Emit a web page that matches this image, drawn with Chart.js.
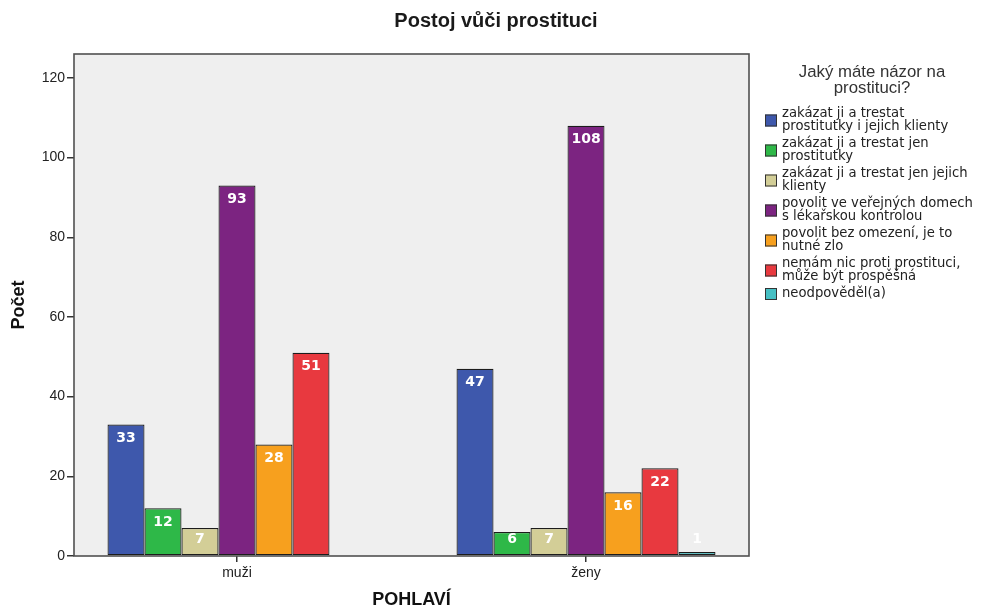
<!DOCTYPE html>
<html>
<head>
<meta charset="utf-8">
<script src="https://cdn.jsdelivr.net/npm/chart.js@4.4.1/dist/chart.umd.min.js"></script>
<style>
  html, body { margin: 0; padding: 0; background: #ffffff; }
  #wrap { width: 982px; height: 609px; }
</style>
</head>
<body>
<div id="wrap"><canvas id="chart" width="982" height="609"></canvas></div>
<script>
// Gender groups on the x axis
const categories = ['muži', 'ženy'];

// Answer counts per group (muži, ženy)
const zakazatObe = [33, 47];
const zakazatProstitutky = [12, 6];
const zakazatKlienty = [7, 7];
const povolitDomy = [93, 108];
const povolitBezOmezeni = [28, 16];
const nemamNicProti = [51, 22];
const neodpovedel = [null, 1];

// Answer labels, split into the lines shown in the legend
const answerLabels = [
  ['zakázat ji a trestat', 'prostitutky i jejich klienty'],
  ['zakázat ji a trestat jen', 'prostitutky'],
  ['zakázat ji a trestat jen jejich', 'klienty'],
  ['povolit ve veřejných domech', 's lékařskou kontrolou'],
  ['povolit bez omezení, je to', 'nutné zlo'],
  ['nemám nic proti prostituci,', 'může být prospěšná'],
  ['neodpověděl(a)']
];
const answerColors = ['#3E58AC', '#2EB848', '#D3CE97', '#7C2481', '#F7A01E', '#E8393F', '#46BFC3'];

const yTicks = [0, 20, 40, 60, 80, 100, 120];
const chartTitle = 'Postoj vůči prostituci';
const legendTitle = ['Jaký máte názor na', 'prostituci?'];
const yTitle = 'Počet';
const xTitle = 'POHLAVÍ';

const seriesValues = [zakazatObe, zakazatProstitutky, zakazatKlienty, povolitDomy,
                      povolitBezOmezeni, nemamNicProti, neodpovedel];

const datasets = seriesValues.map((vals, i) => ({
  label: answerLabels[i].join(' '),
  data: vals.map((v, k) => ({ x: k, y: v })),
  backgroundColor: answerColors[i],
  borderColor: '#1c1c1c',
  borderWidth: 1.2,
  borderSkipped: false
}));

// Grey plot background and frame around the plot area
const plotFrame = {
  id: 'plotFrame',
  beforeDraw(chart) {
    const { ctx, chartArea: a } = chart;
    ctx.save();
    ctx.fillStyle = '#EFEFEF';
    ctx.fillRect(a.left, a.top, a.right - a.left, a.bottom - a.top);
    ctx.restore();
  },
  afterDatasetsDraw(chart) {
    const { ctx, chartArea: a } = chart;
    ctx.save();
    ctx.strokeStyle = '#505050';
    ctx.lineWidth = 1.6;
    ctx.strokeRect(a.left, a.top, a.right - a.left, a.bottom - a.top);
    ctx.restore();
  }
};

// White count labels near the top of each bar
const barValues = {
  id: 'barValues',
  afterDatasetsDraw(chart) {
    const { ctx } = chart;
    const zero = chart.scales.y.getPixelForValue(0);
    ctx.save();
    ctx.font = 'bold 14px "DejaVu Sans"';
    ctx.fillStyle = '#ffffff';
    ctx.textAlign = 'center';
    ctx.textBaseline = 'middle';
    chart.data.datasets.forEach((ds, di) => {
      chart.getDatasetMeta(di).data.forEach((bar, k) => {
        const v = ds.data[k].y;
        if (v === null || v === undefined) return;
        const y = Math.min(bar.y + 14, zero - 17);
        ctx.fillText(String(v), bar.x, y);
      });
    });
    ctx.restore();
  }
};

// Chart title and the legend block on the right
const titleAndLegend = {
  id: 'titleAndLegend',
  afterDraw(chart) {
    const { ctx } = chart;
    ctx.save();
    ctx.fillStyle = '#1a1a1a';
    ctx.textAlign = 'center';
    ctx.textBaseline = 'middle';
    ctx.font = 'bold 20px "Liberation Sans"';
    ctx.fillText(chartTitle, 496, 21);

    ctx.fillStyle = '#333333';
    ctx.font = '16.8px "Liberation Sans"';
    legendTitle.forEach((t, i) => ctx.fillText(t, 872, 72 + i * 16));

    ctx.textAlign = 'left';
    ctx.font = '13.2px "DejaVu Sans"';
    const lineGap = 13;
    answerLabels.forEach((lines, i) => {
      const y0 = 114 + i * 30;
      const mid = y0 + (lines.length - 1) * lineGap / 2;
      ctx.fillStyle = answerColors[i];
      ctx.fillRect(765, mid - 6, 12, 12);
      ctx.strokeStyle = '#333333';
      ctx.lineWidth = 1;
      ctx.strokeRect(765.5, mid - 5.5, 11, 11);
      ctx.fillStyle = '#222222';
      lines.forEach((t, k) => ctx.fillText(t, 782, y0 + k * lineGap));
    });
    ctx.restore();
  }
};

new Chart(document.getElementById('chart'), {
  type: 'bar',
  data: { datasets },
  options: {
    responsive: false,
    animation: false,
    events: [],
    layout: { padding: { top: 54, right: 233, bottom: 0, left: 0 } },
    datasets: { bar: { categoryPercentage: 0.742, barPercentage: 1.0, grouped: true } },
    plugins: { legend: { display: false }, title: { display: false }, tooltip: { enabled: false } },
    scales: {
      x: {
        type: 'linear',
        offset: false,
        min: -0.467,
        max: 1.467,
        afterBuildTicks: s => { s.ticks = categories.map((_, i) => ({ value: i })); },
        afterFit: s => { s.height = 53; },
        ticks: {
          callback: v => categories[v] ?? '',
          font: { family: 'Liberation Sans', size: 14 },
          color: '#222222',
          padding: 3,
          maxRotation: 0,
          autoSkip: false
        },
        grid: { offset: false, drawOnChartArea: false, tickLength: 6, color: '#333333', lineWidth: 1.5 },
        border: { display: false },
        title: {
          display: true, text: xTitle, color: '#111111',
          font: { family: 'Liberation Sans', size: 18, weight: 'bold', lineHeight: 1 },
          padding: { top: 0, bottom: 0 }
        }
      },
      y: {
        min: 0,
        max: 126,
        afterBuildTicks: s => { s.ticks = yTicks.map(v => ({ value: v })); },
        afterFit: s => { s.width = 74; },
        ticks: {
          font: { family: 'Liberation Sans', size: 14 },
          color: '#222222',
          padding: 2
        },
        grid: { drawOnChartArea: false, tickLength: 7, color: '#333333', lineWidth: 1.5 },
        border: { display: false },
        title: {
          display: true, text: yTitle, color: '#111111',
          font: { family: 'Liberation Sans', size: 18, weight: 'bold', lineHeight: 1 },
          padding: { top: 10, bottom: 0 }
        }
      }
    }
  },
  plugins: [plotFrame, barValues, titleAndLegend]
});
</script>
</body>
</html>
